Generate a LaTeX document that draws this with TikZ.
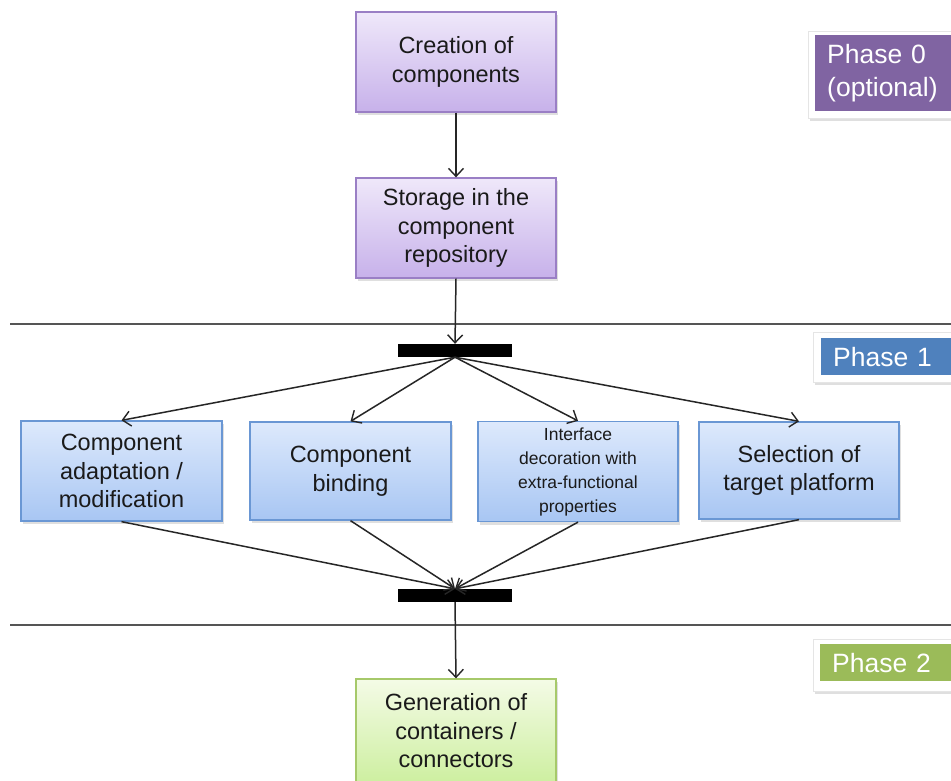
\documentclass[tikz,border=0pt]{standalone}
\usepackage{fontspec}
\setmainfont{Liberation Sans}
\usetikzlibrary{arrows.meta,shadows}
\definecolor{purT}{HTML}{EFE8FA}
\definecolor{purB}{HTML}{C7B1EA}
\definecolor{purD}{HTML}{9A7FC5}
\definecolor{bluT}{HTML}{DDE9FC}
\definecolor{bluB}{HTML}{A8C6F3}
\definecolor{bluD}{HTML}{6A97D4}
\definecolor{grnT}{HTML}{F4FBE6}
\definecolor{grnB}{HTML}{CDEFA0}
\definecolor{grnD}{HTML}{A6C96A}
\definecolor{ph0}{HTML}{8064A2}
\definecolor{ph1}{HTML}{4F81BD}
\definecolor{ph2}{HTML}{9BBB59}
\definecolor{txt}{HTML}{1A1A1A}
\definecolor{sep}{HTML}{555555}
\tikzset{
  box/.style={draw, line width=1.3pt, minimum width=200pt, minimum height=100pt,
    inner sep=2pt, align=center, text=txt, font=\fontsize{23.5}{28.5}\selectfont,
    drop shadow={shadow xshift=2pt, shadow yshift=-3pt, opacity=0.25}},
  pbox/.style={box, draw=purD, top color=purT, bottom color=purB},
  bbox/.style={box, draw=bluD, top color=bluT, bottom color=bluB},
  gbox/.style={box, draw=grnD, top color=grnT, bottom color=grnB},
  bar/.style={fill=black, draw=none, minimum width=114pt, minimum height=13pt, inner sep=0pt},
  flow/.style={draw=black!85, line width=1.5pt, -{Straight Barb[length=8pt,width=15pt,line width=1.4pt]}},
  sepline/.style={draw=sep, line width=1.4pt},
  phwhite/.style={fill=white, draw=black!10, line width=1pt, anchor=north west, inner sep=0pt,
    drop shadow={shadow xshift=1.5pt, shadow yshift=-2pt, opacity=0.25}},
  phase/.style={draw=none, anchor=north west, inner xsep=12pt, inner ysep=0pt,
    text width=112pt, align=left, text=white, font=\fontsize{26.5}{33}\selectfont}
}
\begin{document}
\begin{tikzpicture}[x=1pt,y=-1pt]
\useasboundingbox (0,0) rectangle (951,780);
\fill[white] (0,0) rectangle (951,780);

% separator lines
\coordinate (s1a) at (10,324);
\coordinate (s1b) at (951,324);
\coordinate (s2a) at (10,625);
\coordinate (s2b) at (951,625);
\draw[sepline] (s1a) -- (s1b);
\draw[sepline] (s2a) -- (s2b);

% phase labels
\node[phwhite, minimum width=145pt, minimum height=87pt] (p0w) at (808,31) {};
\node[phase, fill=ph0, minimum height=76pt] (p0) at (815,35) {Phase 0\\(optional)};
\node[phwhite, minimum width=140pt, minimum height=50pt] (p1w) at (813,332) {};
\node[phase, fill=ph1, minimum height=37pt, text width=111pt] (p1) at (821,338) {Phase 1};
\node[phwhite, minimum width=140pt, minimum height=52pt] (p2w) at (813,639) {};
\node[phase, fill=ph2, minimum height=37pt, text width=111pt] (p2) at (820,644) {Phase 2};

% boxes
\node[pbox] (c1) at (456,62) {Creation of\\components};
\node[pbox] (c2) at (456,228) {Storage in the\\component\\repository};

\node[bar] (bar1) at (455,350.5) {};

\node[bbox, minimum width=201pt] (b1) at (121.5,471) {Component\\adaptation /\\modification};
\node[bbox, minimum width=201pt, minimum height=98pt] (b2) at (350.5,471) {Component\\binding};
\node[bbox, font=\fontsize{17.5}{24}\selectfont] (b3) at (578,471.5) {Interface\\decoration with\\extra-functional\\properties};
\node[bbox, minimum height=97pt] (b4) at (799,470.5) {Selection of\\target platform};

\node[bar] (bar2) at (455,595.5) {};

\node[gbox, minimum height=104pt] (g1) at (456,731) {Generation of\\containers /\\connectors};

% connectors
\draw[flow] (c1.south) -- (c2.north);
\draw[flow] (c2.south) -- (bar1.north);
\draw[flow] (bar1.south) -- (b1.north);
\draw[flow] (bar1.south) -- (b2.north);
\draw[flow] (bar1.south) -- (b3.north);
\draw[flow] (bar1.south) -- (b4.north);
\draw[flow] (b1.south) -- (bar2.north);
\draw[flow] (b2.south) -- (bar2.north);
\draw[flow] (b3.south) -- (bar2.north);
\draw[flow] (b4.south) -- (bar2.north);
\draw[flow] (bar2.south) -- (g1.north);
\end{tikzpicture}
\end{document}
